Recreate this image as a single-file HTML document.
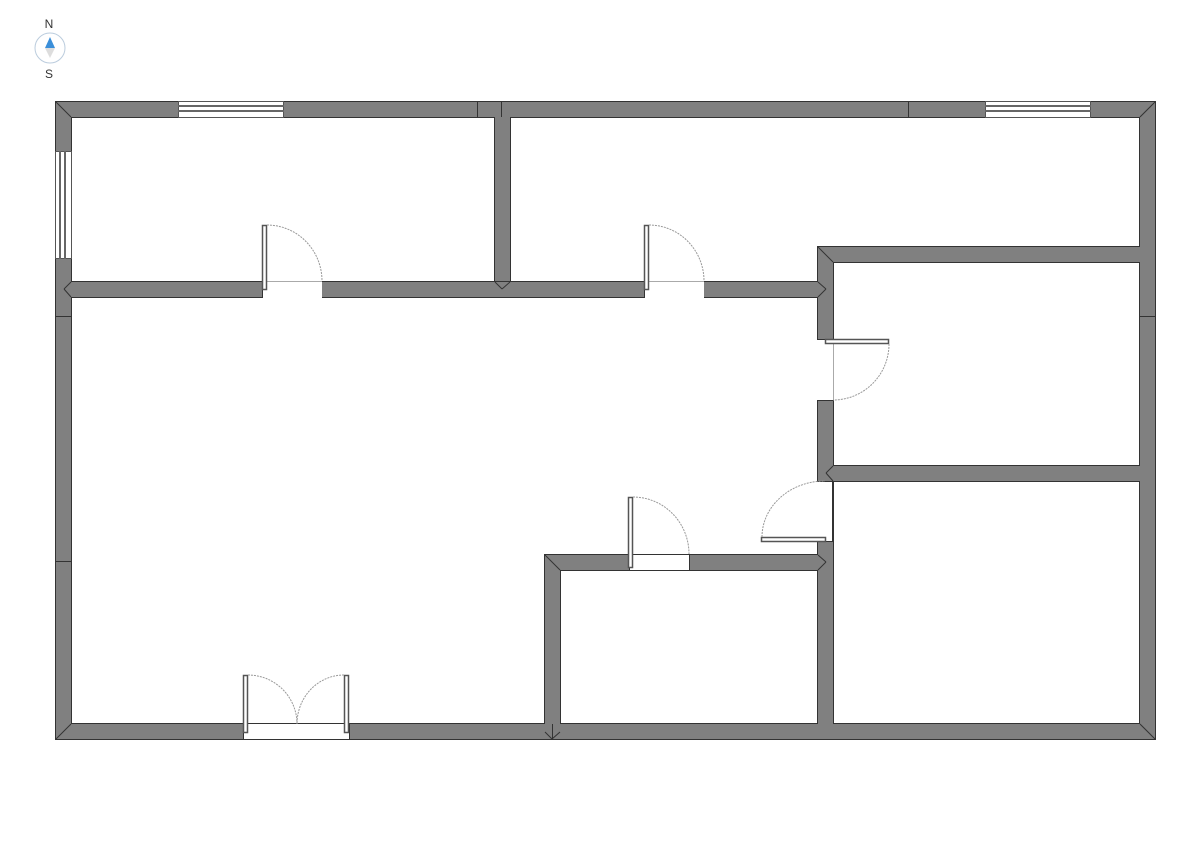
<!DOCTYPE html>
<html><head><meta charset="utf-8"><style>
html,body{margin:0;padding:0;background:#fff;}
svg{display:block;}
text{font-family:"Liberation Sans",sans-serif;font-size:12px;fill:#333;}
</style></head><body>
<svg width="1191" height="842" viewBox="0 0 1191 842" xmlns="http://www.w3.org/2000/svg">
<text x="49" y="28" text-anchor="middle">N</text>
<circle cx="50" cy="48" r="15" fill="#fff" stroke="#bcd" stroke-width="1"/>
<polygon points="50,37 45,48 55,48" fill="#3b8fd9"/>
<polygon points="50,58 45,48 55,48" fill="#ddd"/>
<text x="49" y="78" text-anchor="middle">S</text>

<g fill="#808080" stroke="#333" stroke-width="1">
<rect x="55.5" y="101.5" width="1100" height="16"/>
<rect x="55.5" y="101.5" width="16" height="638"/>
<rect x="55.5" y="723.5" width="1100" height="16"/>
<rect x="1139.5" y="101.5" width="16" height="638"/>
<rect x="71.5" y="281.5" width="191" height="16"/>
<rect x="322.5" y="281.5" width="322" height="16"/>
<rect x="704.5" y="281.5" width="121" height="16"/>
<rect x="494.5" y="117.5" width="16" height="164"/>
<rect x="817.5" y="246.5" width="338" height="16"/>
<rect x="817.5" y="465.5" width="322" height="16"/>
<rect x="817.5" y="246.5" width="16" height="93"/>
<rect x="817.5" y="400.5" width="16" height="81"/>
<rect x="817.5" y="541.5" width="16" height="183"/>
<rect x="544.5" y="554.5" width="85" height="16"/>
<rect x="689.5" y="554.5" width="144" height="16"/>
<rect x="544.5" y="554.5" width="16" height="185"/>
</g>
<g fill="#808080">
<rect x="56" y="102" width="1099" height="15"/>
<rect x="56" y="102" width="15" height="637"/>
<rect x="56" y="724" width="1099" height="15"/>
<rect x="1140" y="102" width="15" height="637"/>
<rect x="495" y="102" width="15" height="179"/>
<rect x="818" y="247" width="15" height="92"/>
<rect x="818" y="401" width="15" height="80"/>
<rect x="818" y="542" width="15" height="182"/>
<rect x="545" y="555" width="15" height="184"/>
<rect x="56" y="282" width="206" height="15"/>
<rect x="322" y="282" width="322" height="15"/>
<rect x="704" y="282" width="128" height="15"/>
<rect x="818" y="247" width="337" height="15"/>
<rect x="818" y="466" width="337" height="15"/>
<rect x="545" y="555" width="84" height="15"/>
<rect x="690" y="555" width="142" height="15"/>
<rect x="545" y="724" width="15" height="15"/>
</g>
<g stroke="#333" stroke-width="1" fill="none">
<polyline points="71.5,117.5 494.5,117.5 494.5,281.5 262,281.5"/>
<polyline points="322,281.5 494.5,281.5"/>
<polyline points="71.5,117.5 71.5,281.5"/>
<polyline points="510.5,117.5 1139.5,117.5 1139.5,246.5 817.5,246.5 817.5,281.5 704,281.5"/>
<polyline points="644,281.5 510.5,281.5 510.5,117.5"/>
<polyline points="71.5,297.5 262,297.5"/>
<polyline points="322,297.5 644,297.5"/>
<polyline points="704,297.5 817.5,297.5 817.5,339"/>
<polyline points="71.5,297.5 71.5,723.5 243,723.5"/>
<polyline points="349,723.5 544.5,723.5 544.5,554.5 629,554.5"/>
<polyline points="689,554.5 817.5,554.5 817.5,541"/>
<polyline points="817.5,400 817.5,481"/>
<polyline points="560.5,723.5 817.5,723.5 817.5,570.5 689,570.5"/>
<polyline points="629,570.5 560.5,570.5 560.5,723.5"/>
<polyline points="833.5,723.5 1139.5,723.5 1139.5,481.5 833.5,481.5 833.5,723.5"/>
<polyline points="833.5,465.5 1139.5,465.5 1139.5,262.5 833.5,262.5 833.5,339"/>
<polyline points="833.5,400 833.5,465.5"/>
<line x1="832.5" y1="482" x2="832.5" y2="542"/>
<line x1="477.5" y1="102" x2="477.5" y2="117"/>
<line x1="501.5" y1="102" x2="501.5" y2="117"/>
<line x1="908.5" y1="102" x2="908.5" y2="117"/>
<line x1="56" y1="316.5" x2="71" y2="316.5"/>
<line x1="56" y1="561.5" x2="71" y2="561.5"/>
<line x1="1140" y1="316.5" x2="1155" y2="316.5"/>
<line x1="552.5" y1="724" x2="552.5" y2="739"/>
<!-- miters -->
<line x1="56" y1="102" x2="71" y2="117"/>
<line x1="1155" y1="102" x2="1140" y2="117"/>
<line x1="56" y1="739" x2="71" y2="724"/>
<line x1="1155" y1="739" x2="1140" y2="724"/>
<line x1="818" y1="247" x2="833" y2="262"/>
<line x1="545" y1="555" x2="560" y2="570"/>
<line x1="552" y1="739" x2="545" y2="732"/><line x1="552" y1="739" x2="560" y2="732"/>
<line x1="71" y1="282" x2="64" y2="289"/><line x1="71" y1="297" x2="64" y2="289"/>
<line x1="818" y1="282" x2="826" y2="289"/><line x1="818" y1="297" x2="826" y2="289"/>
<line x1="833" y1="466" x2="826" y2="473"/><line x1="833" y1="481" x2="826" y2="473"/>
<line x1="818" y1="555" x2="826" y2="562"/><line x1="818" y1="570" x2="826" y2="562"/>
<line x1="495" y1="282" x2="502" y2="289"/><line x1="510" y1="282" x2="502" y2="289"/>
</g>
<g fill="#fff" stroke="#555" stroke-width="1">
<rect x="178.5" y="101.5" width="105" height="16"/>
<rect x="985.5" y="101.5" width="105" height="16"/>
<rect x="55.5" y="151.5" width="16" height="107"/>
</g>
<g stroke="#666" stroke-width="2">
<line x1="178" y1="106" x2="284" y2="106"/><line x1="178" y1="111" x2="284" y2="111"/>
<line x1="985" y1="106" x2="1091" y2="106"/><line x1="985" y1="111" x2="1091" y2="111"/>
<line x1="60" y1="151" x2="60" y2="259"/><line x1="65" y1="151" x2="65" y2="259"/>
</g>
<g stroke="#aaa" stroke-width="1" fill="none">
<line x1="267" y1="281.5" x2="322" y2="281.5"/>
<line x1="649" y1="281.5" x2="704" y2="281.5"/>
<line x1="833.5" y1="344" x2="833.5" y2="400"/>
<line x1="248" y1="724.5" x2="344" y2="724.5"/>
</g>
<rect x="629.5" y="554.5" width="60" height="16" fill="#fff" stroke="#333"/>
<rect x="243.5" y="723.5" width="106" height="16" fill="#fff" stroke="#333"/>
<g fill="#fff" stroke="#555" stroke-width="1.5">
<rect x="262.5" y="225.5" width="4" height="64"/>
<rect x="644.5" y="225.5" width="4" height="64"/>
<rect x="825.5" y="339.5" width="63" height="4"/>
<rect x="761.5" y="537.5" width="64" height="4"/>
<rect x="628.5" y="497.5" width="4" height="70"/>
<rect x="243.5" y="675.5" width="4" height="57"/>
<rect x="344.5" y="675.5" width="4" height="57"/>
</g>
<g fill="none" stroke="#999" stroke-width="1" stroke-dasharray="2,1">
<path d="M267,225 A55,56 0 0 1 322,281"/>
<path d="M649,225 A55,56 0 0 1 704,281"/>
<path d="M889,344 A56,56 0 0 1 833,400"/>
<path d="M762,537 A63,56 0 0 1 825,481"/>
<path d="M633,497 A56,57 0 0 1 689,554"/>
<path d="M248,675 A49,49 0 0 1 297,724"/>
<path d="M344,675 A47,49 0 0 0 297,724"/>
</g>
</svg>
</body></html>
